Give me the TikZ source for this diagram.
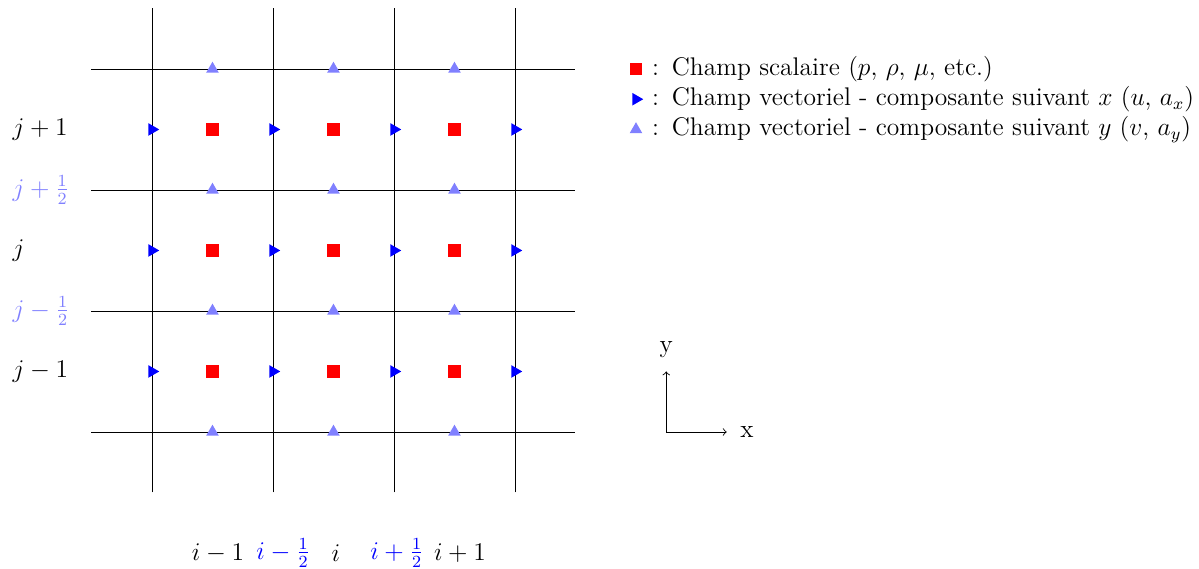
\documentclass[tikz,border=0pt]{standalone}
\usepackage{tikz}
\usetikzlibrary{positioning,shapes.geometric}

\begin{document}
\begin{tikzpicture}[
  font=\large,
  scal/.style={fill=red, minimum size=2.1mm, inner sep=0pt},
  vecx/.style={regular polygon, regular polygon sides=3, shape border rotate=-90,
               fill=blue, minimum size=2.4mm, inner sep=0pt},
  vecy/.style={regular polygon, regular polygon sides=3,
               fill=blue!50, minimum size=2.4mm, inner sep=0pt},
  lbl/.style={inner sep=0pt},
  halfj/.style={lbl, text=blue!50},
  halfi/.style={lbl, text=blue},
  legtxt/.style={lbl, anchor=west}
]
\useasboundingbox (-2.512,-2.264) rectangle (17.306,7.140);

% maillage
\foreach \k in {0,2,4,6} {
  \draw (\k,-1) -- (\k,7);
  \draw (-1,\k) -- (7,\k);
}

% inconnues
\foreach \i in {1,3,5} \foreach \j in {1,3,5}
  \node[scal] (p-\i-\j) at (\i,\j) {};
\foreach \i in {0,2,4,6} \foreach \j in {1,3,5}
  \node[vecx] (u-\i-\j) at (\i,\j) {};
\foreach \i in {1,3,5} \foreach \j in {0,2,4,6}
  \node[vecy] (v-\i-\j) at (\i,\j) {};

% indices j
\node[lbl, anchor=west] (jp1) at (-2.31,5) {$j+1$};
\node[halfj, anchor=west] (jph) at (-2.31,4) {$j+\frac{1}{2}$};
\node[lbl, anchor=west] (j0) at (-2.31,3) {$j$};
\node[halfj, anchor=west] (jmh) at (-2.31,2) {$j-\frac{1}{2}$};
\node[lbl, anchor=west] (jm1) at (-2.31,1) {$j-1$};

% indices i
\node[lbl] (im1) at (1.09,-2) {$i-1$};
\node[halfi] (imh) at (2.17,-2) {$i-\frac{1}{2}$};
\node[lbl] (i0) at (3.04,-2) {$i$};
\node[halfi] (iph) at (4.05,-2) {$i+\frac{1}{2}$};
\node[lbl] (ip1) at (5.09,-2) {$i+1$};

% legende
\node[scal] (legp) at (8,6) {};
\node[vecx] (legu) at (8,5.5) {};
\node[vecy] (legv) at (8,5) {};
\node[legtxt] (legptxt) at ([xshift=2.6mm]legp.center) {:\enspace Champ scalaire ($p$, $\rho$, $\mu$, etc.)};
\node[legtxt] (legutxt) at ([xshift=2.6mm]legu.center) {:\enspace Champ vectoriel - composante suivant $x$ ($u$, $a_x$)};
\node[legtxt] (legvtxt) at ([xshift=2.6mm]legv.center) {:\enspace Champ vectoriel - composante suivant $y$ ($v$, $a_y$)};

% repere
\coordinate (o) at (8.5,0);
\coordinate (xend) at (9.5,0);
\coordinate (yend) at (8.5,1);
\node[right=1mm of xend] (xlab) {x};
\node[above=1mm of yend] (ylab) {y};
\draw[->] (o) -- (xend);
\draw[->] (o) -- (yend);
\end{tikzpicture}
\end{document}
